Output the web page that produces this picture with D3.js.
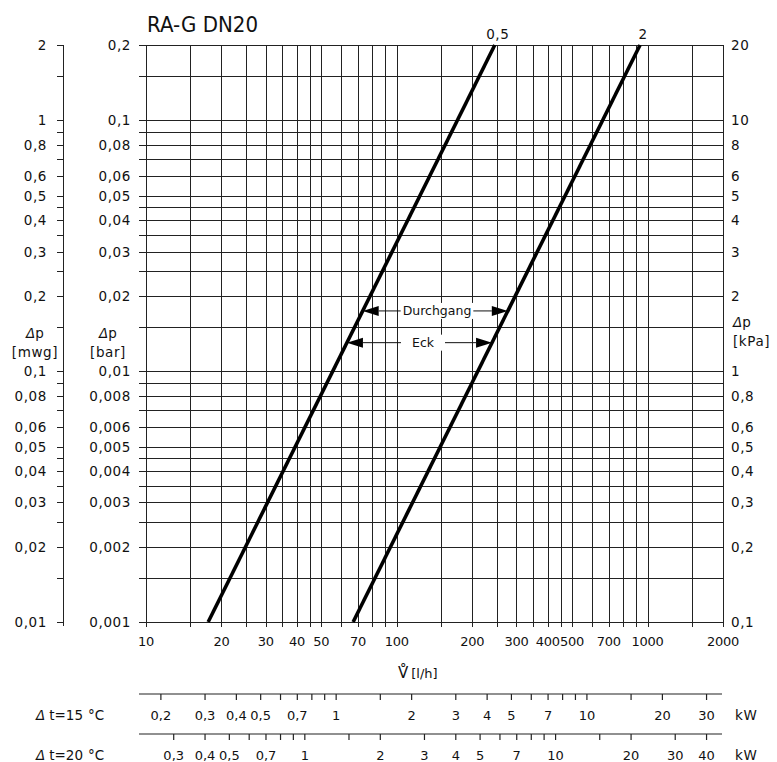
<!DOCTYPE html>
<html>
<head>
<meta charset="utf-8">
<script src="https://cdn.jsdelivr.net/npm/d3@7"></script>
<style>
  body { margin: 0; background: #fff; }
  text { font-family: "DejaVu Sans", sans-serif; fill: #111; }
</style>
</head>
<body>
<script>
// flow grid and labels [l/h]
var flowGrid = [10, 15, 20, 25, 30, 35, 40, 45, 50, 60, 70, 80, 90, 100, 150, 200, 250, 300, 350, 400, 450, 500, 600, 700, 800, 900, 1000, 1500, 2000];
var flowLabels = [10, 20, 30, 40, 50, 70, 100, 200, 300, 400, 500, 700, 1000, 2000];

// pressure drop grid and labels [bar]
var dpGrid = [0.001, 0.0015, 0.002, 0.0025, 0.003, 0.0035, 0.004, 0.0045, 0.005, 0.006, 0.007, 0.008, 0.009,
  0.01, 0.015, 0.02, 0.025, 0.03, 0.035, 0.04, 0.045, 0.05, 0.06, 0.07, 0.08, 0.09, 0.1, 0.15, 0.2];
var dpLabels = [0.001, 0.002, 0.003, 0.004, 0.005, 0.006, 0.008, 0.01, 0.02, 0.03, 0.04, 0.05, 0.06, 0.08, 0.1, 0.2];

// valve presetting lines [flow l/h, dp bar]
var line05 = [[17.7, 0.001], [246, 0.2]];
var line2 = [[67, 0.001], [934, 0.2]];
var lineNames = ['0,5', '2'];

// arrow marks
var arrowTexts = ['Durchgang', 'Eck'];
var arrowDp = [0.0174, 0.013];

// heat output scales [kW]
var kw15Ticks = [0.2, 0.3, 0.4, 0.5, 0.6, 0.7, 0.8, 0.9, 1, 1.5, 2, 3, 4, 5, 6, 7, 8, 9, 10, 15, 20, 30];
var kw15Labels = [0.2, 0.3, 0.4, 0.5, 0.7, 1, 2, 3, 4, 5, 7, 10, 20, 30];
var kw20Ticks = [0.3, 0.4, 0.5, 0.6, 0.7, 0.8, 0.9, 1, 1.5, 2, 3, 4, 5, 6, 7, 8, 9, 10, 15, 20, 30, 40];
var kw20Labels = [0.3, 0.4, 0.5, 0.7, 1, 2, 3, 4, 5, 7, 10, 20, 30, 40];

function fmt(v) {
  return String(+v.toPrecision(4)).replace('.', ',');
}

// kW -> l/h for water, c = 1.163 Wh/(kg K)
function kwToFlow(kw, dt) {
  return kw * 1000 / (1.163 * dt);
}

function flowAt(pts, dp) {
  var t = (Math.log(dp) - Math.log(pts[0][1])) / (Math.log(pts[1][1]) - Math.log(pts[0][1]));
  return Math.exp(Math.log(pts[0][0]) + t * (Math.log(pts[1][0]) - Math.log(pts[0][0])));
}

var x = d3.scaleLog().domain([10, 2000]).range([146, 723]);
var y = d3.scaleLog().domain([0.001, 0.2]).range([622, 45]);

var svg = d3.select('body').append('svg')
  .attr('width', 777)
  .attr('height', 762);

// title
svg.append('text')
  .attr('x', 147)
  .attr('y', 32)
  .attr('font-size', 22)
  .attr('textLength', 111)
  .attr('lengthAdjust', 'spacingAndGlyphs')
  .text('RA-G DN20');

var grid = svg.append('g')
  .attr('stroke', '#222')
  .attr('stroke-width', 1)
  .attr('shape-rendering', 'crispEdges');

grid.selectAll('line.v')
  .data(flowGrid)
  .enter()
  .append('line')
  .attr('class', 'v')
  .attr('x1', function(d) { return Math.round(x(d)) + 0.5; })
  .attr('x2', function(d) { return Math.round(x(d)) + 0.5; })
  .attr('y1', y(0.2))
  .attr('y2', y(0.001) + 5);

grid.selectAll('line.h')
  .data(dpGrid)
  .enter()
  .append('line')
  .attr('class', 'h')
  .attr('x1', 139)
  .attr('x2', x(2000))
  .attr('y1', function(d) { return Math.round(y(d)) + 0.5; })
  .attr('y2', function(d) { return Math.round(y(d)) + 0.5; });

// mwg axis
grid.append('line')
  .attr('x1', 63.5).attr('x2', 63.5)
  .attr('y1', y(0.2)).attr('y2', y(0.001) + 4);

grid.selectAll('line.m')
  .data(dpGrid)
  .enter()
  .append('line')
  .attr('class', 'm')
  .attr('x1', 57)
  .attr('x2', 63.5)
  .attr('y1', function(d) { return Math.round(y(d)) + 0.5; })
  .attr('y2', function(d) { return Math.round(y(d)) + 0.5; });

// axis labels
var labelFont = 13.5;

svg.append('g').selectAll('text')
  .data(dpLabels)
  .enter()
  .append('text')
  .attr('x', 131)
  .attr('y', function(d) { return y(d) + 5; })
  .attr('text-anchor', 'end')
  .attr('font-size', labelFont)
  .attr('letter-spacing', 0.6)
  .text(function(d) { return fmt(d); });

svg.append('g').selectAll('text')
  .data(dpLabels)
  .enter()
  .append('text')
  .attr('x', 47)
  .attr('y', function(d) { return y(d) + 5; })
  .attr('text-anchor', 'end')
  .attr('font-size', labelFont)
  .attr('letter-spacing', 0.6)
  .text(function(d) { return fmt(d * 10); });

svg.append('g').selectAll('text')
  .data(dpLabels)
  .enter()
  .append('text')
  .attr('x', 731)
  .attr('y', function(d) { return y(d) + 5; })
  .attr('font-size', labelFont)
  .attr('letter-spacing', 0.6)
  .text(function(d) { return fmt(d * 100); });

svg.append('g').selectAll('text')
  .data(flowLabels)
  .enter()
  .append('text')
  .attr('x', function(d) { return x(d); })
  .attr('y', 646)
  .attr('text-anchor', 'middle')
  .attr('font-size', 13)
  .attr('letter-spacing', -0.3)
  .text(function(d) { return fmt(d); });

// unit labels
function unitLabel(x0, y0, anchor, unit) {
  var t = svg.append('text')
    .attr('x', x0)
    .attr('y', y0)
    .attr('text-anchor', anchor)
    .attr('font-size', labelFont);
  t.append('tspan').attr('font-style', 'italic').text('Δ');
  t.append('tspan').text('p');
  svg.append('text')
    .attr('x', x0)
    .attr('y', y0 + 19)
    .attr('text-anchor', anchor)
    .attr('font-size', labelFont)
    .attr('letter-spacing', 0.6)
    .text(unit);
}
unitLabel(35, 338, 'middle', '[mwg]');
unitLabel(108, 338, 'middle', '[bar]');
unitLabel(733, 327, 'start', '[kPa]');

var vLabel = svg.append('text')
  .attr('x', 398)
  .attr('y', 678)
  .attr('font-family', 'Liberation Sans, Arial, sans-serif')
  .attr('font-size', 13);
vLabel.append('tspan').attr('font-size', 15).text('V\u030A');
vLabel.append('tspan').attr('dx', 3).text('[l/h]');

// arrows between the lines
var arrowG = svg.append('g');
arrowTexts.forEach(function(txt, i) {
  var dp = arrowDp[i];
  var yy = y(dp);
  var xl = x(flowAt(line05, dp));
  var xr = x(flowAt(line2, dp));
  var head = 16, half = 5;
  arrowG.append('line')
    .attr('x1', xl + head).attr('x2', xr - head)
    .attr('y1', yy).attr('y2', yy)
    .attr('stroke', '#111').attr('stroke-width', 1);
  arrowG.append('path')
    .attr('d', 'M' + xl + ',' + yy + 'L' + (xl + head) + ',' + (yy - half) + 'L' + (xl + head) + ',' + (yy + half) + 'Z')
    .attr('fill', '#000');
  arrowG.append('path')
    .attr('d', 'M' + xr + ',' + yy + 'L' + (xr - head) + ',' + (yy - half) + 'L' + (xr - head) + ',' + (yy + half) + 'Z')
    .attr('fill', '#000');
  var cx = i === 0 ? 437 : 423;
  var pad = i === 0 ? 2 : 11;
  var rect = arrowG.append('rect').attr('fill', '#fff');
  var t = arrowG.append('text')
    .attr('x', cx)
    .attr('y', yy + 4.5)
    .attr('text-anchor', 'middle')
    .attr('font-family', 'Open Sans, sans-serif')
    .attr('font-size', 12.5)
    .text(txt);
  var w = t.node().getComputedTextLength();
  rect.attr('x', cx - w / 2 - pad).attr('width', w + 2 * pad)
    .attr('y', yy - 8).attr('height', 16);
});

// valve lines
var lineGen = d3.line()
  .x(function(d) { return x(d[0]); })
  .y(function(d) { return y(d[1]); });

[line05, line2].forEach(function(pts, i) {
  svg.append('path')
    .attr('d', lineGen(pts))
    .attr('fill', 'none')
    .attr('stroke', '#000')
    .attr('stroke-width', 3.6);
  svg.append('text')
    .attr('x', x(pts[1][0]) + 3)
    .attr('y', 39)
    .attr('text-anchor', 'middle')
    .attr('font-size', labelFont)
    .attr('letter-spacing', 0.6)
    .text(lineNames[i]);
});

// heat output scales
function heatScale(dt, ticks, labels, y0) {
  var g = svg.append('g');
  g.append('line')
    .attr('x1', 139).attr('x2', 722)
    .attr('y1', y0).attr('y2', y0)
    .attr('stroke', '#222').attr('stroke-width', 1.2);
  g.selectAll('line.t')
    .data(ticks)
    .enter()
    .append('line')
    .attr('class', 't')
    .attr('x1', function(d) { return x(kwToFlow(d, dt)); })
    .attr('x2', function(d) { return x(kwToFlow(d, dt)); })
    .attr('y1', y0)
    .attr('y2', y0 + 6)
    .attr('stroke', '#222').attr('stroke-width', 1.2);
  g.selectAll('text')
    .data(labels)
    .enter()
    .append('text')
    .attr('x', function(d) { return x(kwToFlow(d, dt)); })
    .attr('y', y0 + 26)
    .attr('text-anchor', 'middle')
    .attr('font-size', 13)
    .text(function(d) { return fmt(d); });
  var lab = g.append('text')
    .attr('x', 36)
    .attr('y', y0 + 26)
    .attr('font-size', labelFont);
  lab.append('tspan').attr('font-style', 'italic').text('Δ');
  lab.append('tspan').attr('dx', 4).text('t=' + dt);
  lab.append('tspan').attr('dx', 5).text('°C');
  g.append('text')
    .attr('x', 735)
    .attr('y', y0 + 26)
    .attr('font-size', labelFont)
    .attr('letter-spacing', 0.6)
    .text('kW');
}
heatScale(15, kw15Ticks, kw15Labels, 694);
heatScale(20, kw20Ticks, kw20Labels, 734);
</script>
</body>
</html>
